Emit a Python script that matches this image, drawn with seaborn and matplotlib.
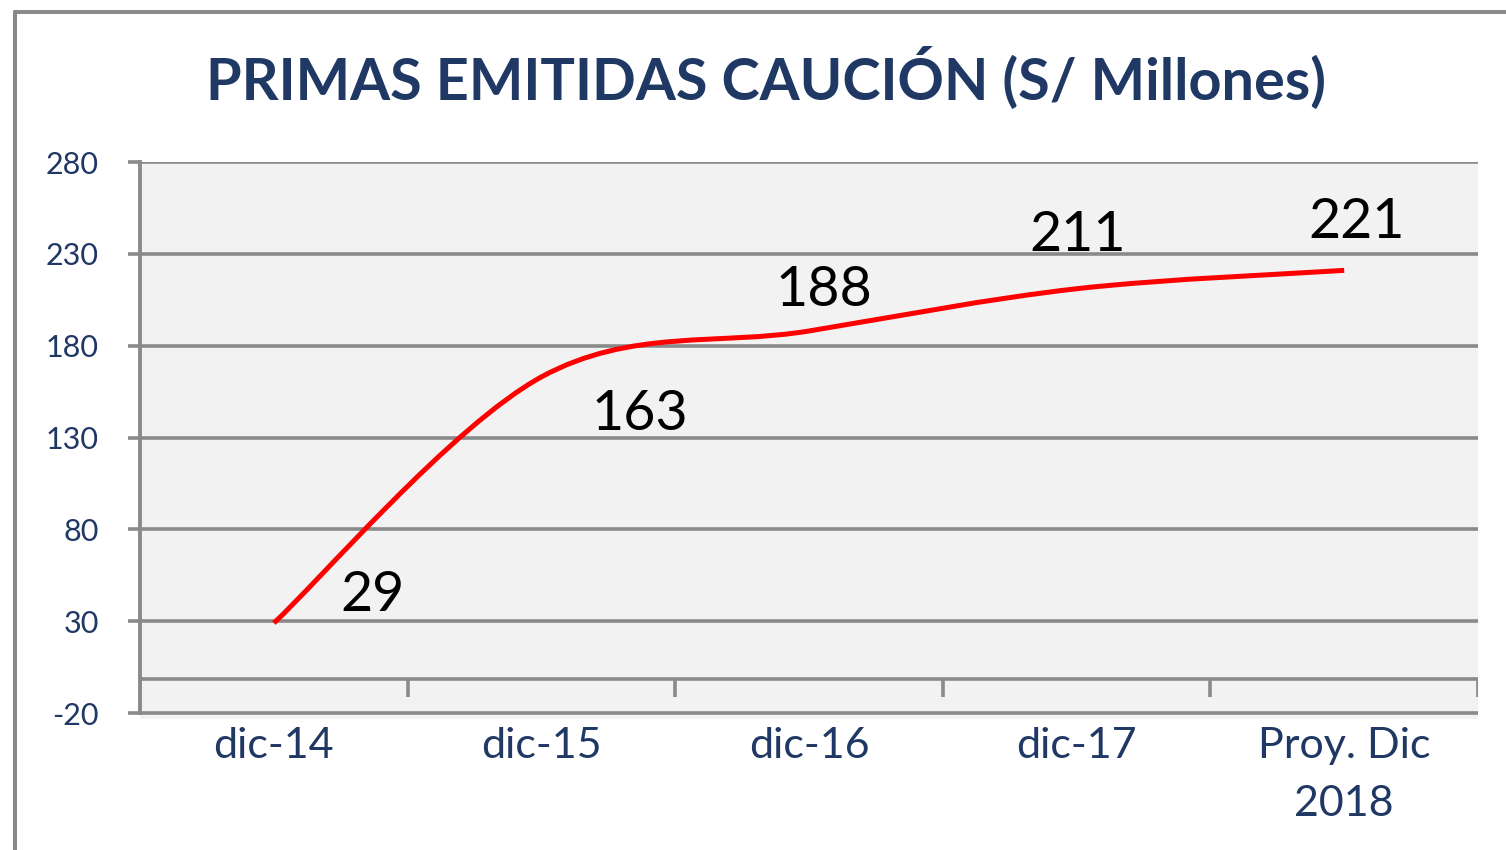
import numpy as np
import matplotlib.pyplot as plt
import seaborn as sns
from matplotlib.path import Path
from matplotlib.patches import PathPatch
from matplotlib.lines import Line2D

# datos del grafico
periodos = ["dic-14", "dic-15", "dic-16", "dic-17", "Proy. Dic\n2018"]
primas = [29, 163, 188, 211, 221]
y_ticks = [-20, 30, 80, 130, 180, 230, 280]
titulo = "PRIMAS EMITIDAS CAUCIÓN (S/ Millones)"

# posicion de cada etiqueta respecto a su punto (en puntos)
label_offsets = [(71, 19.5), (71, -27), (11, 29.5), (1, 38), (9, 34.5)]

sns.set_theme(style="white")
plt.rcParams['font.family'] = ['Lato', 'DejaVu Sans']
plt.rcParams['axes.unicode_minus'] = False

GRID = "#8a8a8a"
NAVY = "#1f3864"

fig = plt.figure(figsize=(15.06, 8.5), dpi=100)
ax = fig.add_axes([0.0930, 0.1541, 0.8884, 0.6553])
ax.set_facecolor("#f2f2f2")

pos = np.arange(len(periodos))
sns.lineplot(x=pos, y=primas, ax=ax, sort=False, color="red", linewidth=3.6)

# linea suavizada (bezier) a partir de los puntos de seaborn
line = ax.lines[0]
pts = line.get_xydata()
line.remove()
ext = np.vstack([pts[0], pts, pts[-1]])
verts = [pts[0]]
codes = [Path.MOVETO]
for i in range(len(pts) - 1):
    p0, p1, p2, p3 = ext[i], ext[i + 1], ext[i + 2], ext[i + 3]
    verts += [p1 + (p2 - p0) / 6, p2 - (p3 - p1) / 6, p2]
    codes += [Path.CURVE4] * 3
ax.add_patch(PathPatch(Path(verts, codes), fill=False, edgecolor="red",
                       lw=3.6, capstyle="butt", zorder=5))

ax.set_xlim(-0.5, 4.5)
ax.set_ylim(-23.27, 280)
ax.set_yticks(y_ticks)
ax.set_xticks(pos)
ax.set_xticklabels(periodos, linespacing=1.62)

ax.yaxis.grid(True, color=GRID, lw=2.6)
ax.xaxis.grid(False)
ax.set_axisbelow(True)

ax.tick_params(axis="y", left=True, length=8.6, width=2.6, color=GRID,
               pad=21, labelsize=22, labelcolor=NAVY)
ax.tick_params(axis="x", bottom=False, length=0, pad=6,
               labelsize=31, labelcolor=NAVY)

for s in ["top", "right", "bottom"]:
    ax.spines[s].set_visible(False)
ax.spines["left"].set_color(GRID)
ax.spines["left"].set_linewidth(2.8)
ax.spines["left"].set_bounds(-20, 280)

# piso 3D y divisiones de categoria
ax.axhline(-1.5, color=GRID, lw=2.6, zorder=1)
ax.vlines(pos + 0.5, -11.3, -1.5, color=GRID, lw=2.6, zorder=1)

for x, v, off in zip(pos, primas, label_offsets):
    ax.annotate(str(v), (x, v), xytext=off, textcoords="offset points",
                ha="center", va="center", fontsize=40, color="black", zorder=6)

fig.text(0.5087, 0.908, titulo, ha="center", va="center", fontsize=41.5,
         fontweight="bold", color=NAVY)

# borde del grafico
fig.add_artist(Line2D([15 / 1506, 15 / 1506], [0, 1 - 12 / 850],
                      color=GRID, lw=2.9))
fig.add_artist(Line2D([15 / 1506, 1], [1 - 12 / 850, 1 - 12 / 850],
                      color=GRID, lw=2.9))

fig.savefig("out.png", dpi=100)
